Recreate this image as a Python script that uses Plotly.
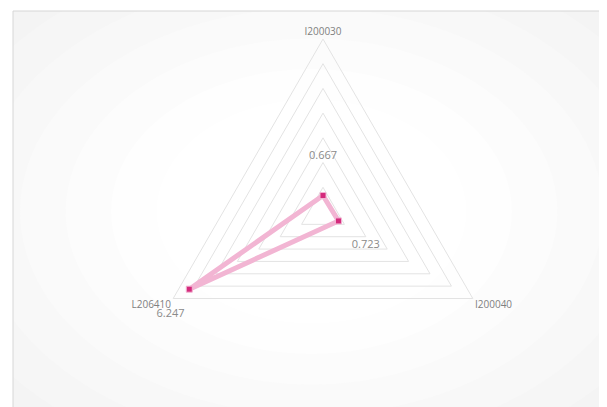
import plotly.graph_objects as go

categories = ["I200030", "I200040", "L206410"]
values = [0.667, 0.723, 6.247]
label_texts = ["0.667<br>&nbsp;<br>&nbsp;", "&nbsp;<br>&nbsp;&nbsp;&nbsp;0.723", "&nbsp;<br>6.247"]
label_positions = ["top center", "bottom right", "bottom left"]
radial_ticks = [1, 2, 3, 4, 5, 6, 7]

W, H = 607, 407
fig = go.Figure()

fig.add_trace(go.Scatterpolar(
    r=values + values[:1],
    theta=categories + categories[:1],
    mode="lines",
    line=dict(color="#f2b5d3", width=5),
    hoverinfo="skip",
    showlegend=False,
))
fig.add_trace(go.Scatterpolar(
    r=values,
    theta=categories,
    mode="markers+text",
    marker=dict(symbol="square", size=6, color="#d42a7c",
                line=dict(color="#f2b5d3", width=1)),
    text=label_texts,
    textposition=label_positions,
    textfont=dict(family="Open Sans, sans-serif", size=11, color="#8a8a8a"),
    showlegend=False,
))

shapes = []
# background panel with border
shapes.append(dict(type="rect", xref="paper", yref="paper", layer="below",
                   x0=5 / W, x1=1.02, y0=-0.02, y1=1 - 3 / H,
                   fillcolor="#efefef", line=dict(width=0)))
grads = ["#f2f2f2", "#f4f4f4", "#f6f6f6", "#f8f8f8", "#fafafa", "#fcfcfc", "#fefefe", "#ffffff"]
for i, c in enumerate(grads):
    sx = 0.78 - i * 0.075
    sy = 0.80 - i * 0.075
    shapes.append(dict(type="circle", xref="paper", yref="paper", layer="below",
                       x0=0.5 - sx, x1=0.5 + sx, y0=0.5 - sy, y1=0.5 + sy,
                       fillcolor=c, line=dict(width=0)))
# clean outer white strips
shapes.append(dict(type="rect", xref="paper", yref="paper", layer="below",
                   x0=-0.02, x1=5 / W, y0=-0.02, y1=1.02,
                   fillcolor="white", line=dict(width=0)))
shapes.append(dict(type="rect", xref="paper", yref="paper", layer="below",
                   x0=-0.02, x1=1.02, y0=1 - 3 / H, y1=1.02,
                   fillcolor="white", line=dict(width=0)))
shapes.append(dict(type="rect", xref="paper", yref="paper", layer="below",
                   x0=5 / W, x1=1.02, y0=-0.02, y1=1 - 3 / H,
                   fillcolor="rgba(0,0,0,0)", line=dict(color="#d6d6d6", width=1)))

fig.update_layout(
    width=W, height=H,
    margin=dict(l=0, r=0, t=0, b=0),
    paper_bgcolor="white",
    shapes=shapes,
    font=dict(family="Open Sans, sans-serif", color="#7f7f7f"),
    polar=dict(
        domain=dict(x=[142 / W, 488 / W], y=[1 - 377 / H, 1 - 31 / H]),
        bgcolor="rgba(0,0,0,0)",
        gridshape="linear",
        radialaxis=dict(range=[0, 7], tickvals=radial_ticks, showticklabels=False,
                        ticks="", showline=False, gridcolor="#e3e3e3", gridwidth=1),
        angularaxis=dict(rotation=90, direction="clockwise", showgrid=False,
                         showline=True, linecolor="#e3e3e3", linewidth=1, ticks="",
                         tickfont=dict(family="Open Sans, sans-serif", size=10, color="#808080")),
    ),
)

fig.write_html("out.html")
